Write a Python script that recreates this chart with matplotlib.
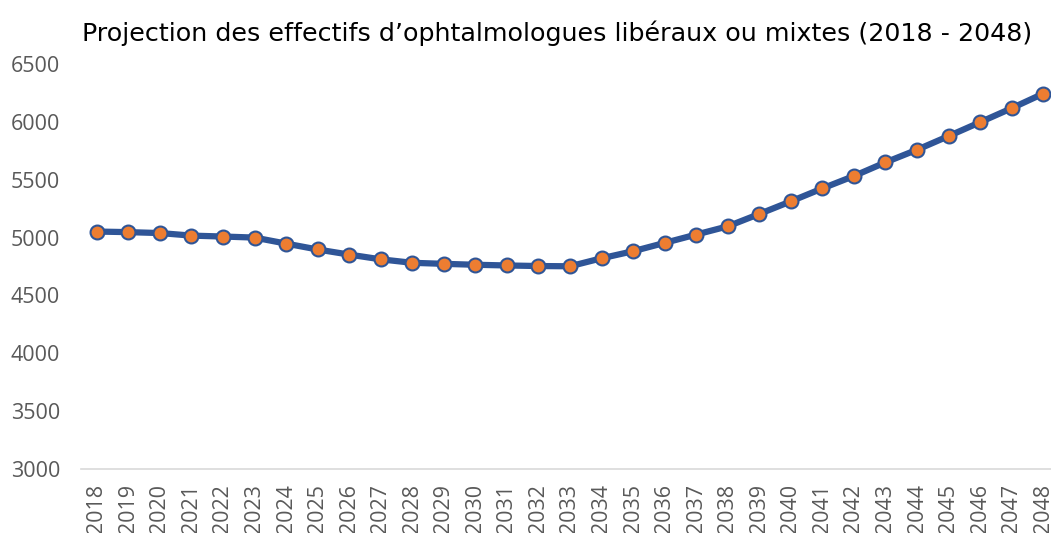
import numpy as np
import matplotlib
matplotlib.use("Agg")
from matplotlib import pyplot as plt

# data
years = [str(y) for y in range(2018, 2049)]
effectifs = [5052, 5047, 5039, 5017, 5009, 5000, 4948, 4897, 4853, 4812,
             4782, 4773, 4765, 4759, 4754, 4752, 4821, 4882, 4954, 5026,
             5097, 5204, 5313, 5425, 5532, 5650, 5759, 5877, 5997, 6118,
             6244]
yticks = [3000, 3500, 4000, 4500, 5000, 5500, 6000, 6500]

plt.rcParams['font.family'] = ['Open Sans', 'DejaVu Sans']

fig = plt.figure(figsize=(10.51, 5.33), dpi=100)
ax = fig.add_axes([81 / 1051, 1 - 469 / 533, 978 / 1051, 405 / 533])

x = np.arange(len(years))
ax.plot(x, effectifs, color='#2F5597', linewidth=4.5, marker='o',
        markersize=10, markerfacecolor='#ED7D31', markeredgecolor='#2F5597',
        markeredgewidth=1.5, solid_joinstyle='round', clip_on=False, zorder=3)

ax.set_xlim(-0.5, len(years) - 0.5)
ax.set_ylim(3000, 6500)
ax.set_yticks(yticks)
ax.set_xticks(x)
ax.set_xticklabels(years, rotation=90)

for s in ['top', 'right', 'left']:
    ax.spines[s].set_visible(False)
ax.spines['bottom'].set_color('#D9D9D9')
ax.spines['bottom'].set_linewidth(1.2)
ax.tick_params(axis='both', length=0, labelsize=15.5, colors='#595959')
ax.tick_params(axis='y', pad=15)
ax.tick_params(axis='x', pad=11)

fig.text(82 / 1051, 1 - 33 / 533, "Projection des effectifs d\u2019ophtalmologues lib\u00e9raux ou mixtes (2018 - 2048)",
         fontsize=18.3, family=['DejaVu Sans'], color='#000000', ha='left', va='center')

fig.savefig('out.png', dpi=100)
